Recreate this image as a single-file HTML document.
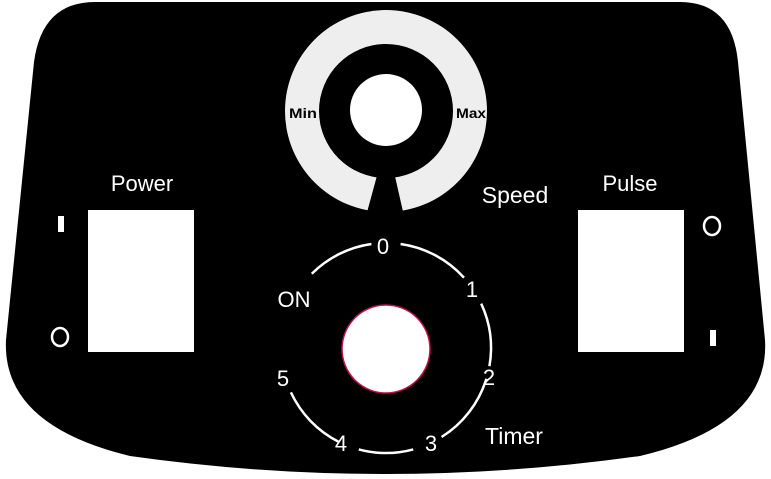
<!DOCTYPE html>
<html><head><style>
html,body{margin:0;padding:0;background:#fff;}
svg{display:block;}
text{font-family:"Liberation Sans",sans-serif;fill:#fff;}
</style></head><body>
<svg width="771" height="479" viewBox="0 0 771 479" xmlns="http://www.w3.org/2000/svg">
<rect width="771" height="479" fill="#fff"/>
<path d="M 95 2 L 680 2 Q 732 2 738 62 L 765 340 Q 770 425 640 456 Q 385 492 130 456 Q 2 425 6 340 L 34 62 Q 42 2 95 2 Z" fill="#000"/>
<circle cx="386" cy="111" r="101" fill="#eeeeee"/>
<circle cx="386" cy="111" r="67" fill="#000"/>
<circle cx="386" cy="110" r="36" fill="#fff"/>
<polygon points="378,172 394,172 404,216 366,216" fill="#000"/>
<text x="303" y="118" font-size="14" font-weight="bold" style="fill:#000" text-anchor="middle" textLength="28" lengthAdjust="spacingAndGlyphs">Min</text>
<text x="471" y="118" font-size="14" font-weight="bold" style="fill:#000" text-anchor="middle" textLength="30" lengthAdjust="spacingAndGlyphs">Max</text>
<text x="515" y="203" font-size="23" text-anchor="middle">Speed</text>
<text x="142" y="191" font-size="22" text-anchor="middle">Power</text>
<text x="630" y="191" font-size="22" text-anchor="middle">Pulse</text>
<text x="514" y="444" font-size="23" text-anchor="middle">Timer</text>
<rect x="88" y="210" width="106" height="142" fill="#fff"/>
<rect x="578" y="210" width="106" height="142" fill="#fff"/>
<rect x="58" y="216" width="6" height="16" fill="#fff"/>
<ellipse cx="60" cy="337" rx="8" ry="9" fill="none" stroke="#fff" stroke-width="2.5"/>
<ellipse cx="712" cy="226" rx="8" ry="9" fill="none" stroke="#fff" stroke-width="2.5"/>
<rect x="710" y="330" width="6" height="16" fill="#fff"/>
<circle cx="386" cy="349" r="44" fill="#fff" stroke="#c0104a" stroke-width="1.5"/>
<g fill="none" stroke="#fff" stroke-width="2.5">
<path d="M 311.8 273.8 A 105 105 0 0 1 371.4 244.0"/>
<path d="M 400.6 244.0 A 105 105 0 0 1 464.0 277.7"/>
<path d="M 481.2 303.6 A 105 105 0 0 1 489.4 366.2"/>
<path d="M 486.4 378.7 A 105 105 0 0 1 441.6 437.0"/>
<path d="M 413.2 449.4 A 105 105 0 0 1 358.8 449.4"/>
<path d="M 338.3 441.6 A 105 105 0 0 1 290.9 392.4"/>
</g>
<g font-size="22" text-anchor="middle">
<text x="383" y="254">0</text>
<text x="472" y="297">1</text>
<text x="489" y="385">2</text>
<text x="431" y="451">3</text>
<text x="341" y="451">4</text>
<text x="283" y="386">5</text>
<text x="294" y="307">ON</text>
</g>
</svg>
</body></html>
